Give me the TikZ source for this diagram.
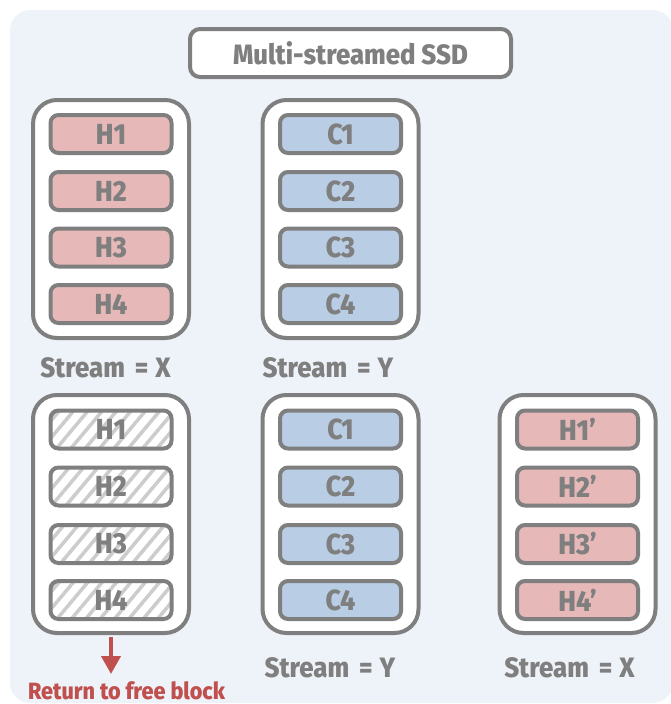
\documentclass[tikz,border=0pt]{standalone}
\usepackage{fontspec}
\setmainfont{Fira Sans}[BoldFont={Fira Sans ExtraBold}, FakeStretch=0.92]
\usetikzlibrary{patterns.meta,arrows.meta}
\definecolor{panelbg}{HTML}{EEF3FA}
\definecolor{edgegray}{HTML}{7F7F7F}
\definecolor{hotpink}{HTML}{E6B9B8}
\definecolor{coldblue}{HTML}{B9CDE5}
\definecolor{freered}{HTML}{C0504D}
\newcommand{\streamis}[1]{Stream\hspace{10pt}=\hspace{7pt}#1}
\tikzset{
  block/.style={draw=edgegray, fill=white, line width=4pt, rounded corners=24pt,
    minimum width=156pt, minimum height=238pt, inner sep=0pt},
  page/.style={draw=edgegray, line width=4pt, rounded corners=8pt,
    minimum width=121pt, minimum height=38pt, inner sep=0pt,
    text=edgegray, font=\bfseries\fontsize{29}{29}\selectfont},
  hotpage/.style={page, fill=hotpink},
  coldpage/.style={page, fill=coldblue},
  stalepage/.style={page, preaction={fill=white},
    pattern={Lines[angle=50, distance=11pt, line width=3.5pt]}, pattern color=black!20},
  streamlabel/.style={text=edgegray, inner sep=0pt, font=\bfseries\fontsize{28}{28}\selectfont},
  titlebox/.style={draw=edgegray, fill=white, line width=4pt, rounded corners=10pt,
    minimum width=321pt, minimum height=48pt, inner sep=0pt,
    text=edgegray, font=\bfseries\fontsize{28}{28}\selectfont},
}
\begin{document}
\begin{tikzpicture}[x=1pt, y=-1pt]
\useasboundingbox (0,0) rectangle (670,704);
% panel
\fill[panelbg, rounded corners=20pt] (10,10) rectangle (673,703);

\node[titlebox] (title) at (350.5,53) {Multi-streamed SSD};

% top row: hot and cold blocks
\node[block] (hotA) at (111,219) {};
\node[block] (coldA) at (340.5,219) {};
\foreach \i/\y in {1/134,2/191,3/247.5,4/304} {
  \node[hotpage] (hA\i) at (111,\y) {H\i};
  \node[coldpage] (cA\i) at (340.5,\y) {C\i};
}
\node[streamlabel] (sA) at (105.5,368) {\streamis{X}};
\node[streamlabel] (sB) at (328,368) {\streamis{Y}};

% bottom row: invalidated block, cold block, rewritten hot block
\node[block] (hotB) at (111,514) {};
\node[block] (coldB) at (340.5,514) {};
\node[block] (hotC) at (577.5,514) {};
\foreach \i/\y in {1/429.5,2/486.5,3/544,4/600} {
  \node[stalepage] (hB\i) at (111,\y) {H\i};
  \node[coldpage] (cB\i) at (340.5,\y) {C\i};
  \node[hotpage] (hC\i) at (577.5,\y) {H\i’};
}
\node[streamlabel] (sC) at (330,668) {\streamis{Y}};
\node[streamlabel] (sD) at (569.5,668) {\streamis{X}};

\node[text=freered, inner sep=0pt, text depth=0pt, anchor=base,
  font=\bfseries\fontsize{23.5}{23.5}\selectfont] (free) at (126.5,699) {Return to free block};
\coordinate (arrowtail) at (111,637);
\coordinate (arrowtip) at (111,674);
\draw[freered, line width=4pt, -{Triangle[width=19pt,length=18pt]}] (arrowtail) -- (arrowtip);
\end{tikzpicture}
\end{document}
